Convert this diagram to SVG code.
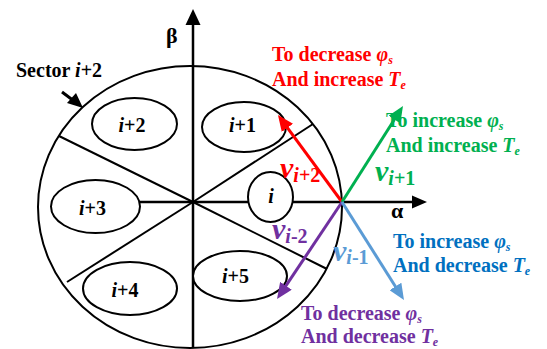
<svg xmlns="http://www.w3.org/2000/svg" width="547" height="349" viewBox="0 0 547 349">
<style>
text{font-family:"Liberation Serif","Times New Roman",serif;font-weight:bold}
.lbl{font-size:20px;text-anchor:middle}
.it{font-style:italic}
.ln{stroke:#000;stroke-width:2;fill:none}
.ax{stroke:#000;stroke-width:2.5;fill:none}
.el{stroke:#000;stroke-width:2;fill:#fff}
.note{font-size:20px}
.vv{font-size:30px;font-style:italic}
.vs{font-size:20px;font-style:italic}
.red{fill:#FF0000}.grn{fill:#00B050}.blu{fill:#0070C0}.lblu{fill:#5B9BD5}.pur{fill:#7030A0}
</style>
<defs>
<marker id="mr" markerUnits="userSpaceOnUse" markerWidth="18" markerHeight="14" refX="8" refY="7" orient="auto"><path d="M0,0 L16,7 L0,14 z" fill="#FF0000"/></marker>
<marker id="mg" markerUnits="userSpaceOnUse" markerWidth="18" markerHeight="14" refX="8" refY="7" orient="auto"><path d="M0,0 L16,7 L0,14 z" fill="#00B050"/></marker>
<marker id="mb" markerUnits="userSpaceOnUse" markerWidth="18" markerHeight="14" refX="8" refY="7" orient="auto"><path d="M0,0 L16,7 L0,14 z" fill="#5B9BD5"/></marker>
<marker id="mp" markerUnits="userSpaceOnUse" markerWidth="18" markerHeight="14" refX="8" refY="7" orient="auto"><path d="M0,0 L16,7 L0,14 z" fill="#7030A0"/></marker>
</defs>
<rect width="547" height="349" fill="#fff"/>
<g id="frame">
<ellipse cx="190" cy="207" rx="152" ry="141" class="ln"/>
<line x1="193" y1="202" x2="59" y2="136" class="ln"/>
<line x1="193" y1="202" x2="67" y2="282" class="ln"/>
<line x1="193" y1="202" x2="313" y2="124" class="ln"/>
<line x1="193" y1="202" x2="327" y2="269" class="ln"/>
</g>
<g id="axes">
<line x1="193" y1="348" x2="193" y2="22" class="ax"/>
<polygon points="193,9 185.5,25 200.5,25" fill="#000"/>
<text x="166" y="43" font-size="22">β</text>
<line x1="140" y1="202" x2="414" y2="202" class="ax"/>
<polygon points="427,202 412,195.5 412,208.5" fill="#000"/>
<text x="391" y="218" font-size="22">α</text>
</g>
<g id="sector-label">
<text x="16" y="77" class="note">Sector <tspan class="it">i</tspan>+2</text>
<line x1="62" y1="92" x2="74" y2="101" stroke="#000" stroke-width="3"/>
<polygon points="83,108 67,103 76,93" fill="#000"/>
</g>
<g id="s-i2"><ellipse cx="134.5" cy="124" rx="42.5" ry="26" class="el"/><text x="132" y="132" class="lbl"><tspan class="it">i</tspan>+2</text></g>
<g id="s-i1"><ellipse cx="244" cy="127" rx="42" ry="25" class="el"/><text x="242.5" y="132" class="lbl"><tspan class="it">i</tspan>+1</text></g>
<g id="s-i3"><ellipse cx="95.5" cy="206.5" rx="44.5" ry="26.5" class="el"/><text x="92.5" y="215" class="lbl"><tspan class="it">i</tspan>+3</text></g>
<g id="s-i4"><ellipse cx="130" cy="288.5" rx="47" ry="26.5" class="el"/><text x="125" y="297" class="lbl"><tspan class="it">i</tspan>+4</text></g>
<g id="s-i5"><ellipse cx="240" cy="276" rx="47" ry="25" class="el"/><text x="235.5" y="283" class="lbl"><tspan class="it">i</tspan>+5</text></g>
<g id="s-i"><ellipse cx="270.5" cy="197" rx="22.5" ry="25" class="el"/><text x="271" y="203" class="lbl it">i</text></g>
<g id="vectors" stroke-width="3">
<line x1="342" y1="202" x2="282.7" y2="121.4" stroke="#FF0000" marker-end="url(#mr)"/>
<line x1="342" y1="202" x2="398.7" y2="112.8" stroke="#00B050" marker-end="url(#mg)"/>
<line x1="342" y1="202" x2="281.5" y2="292.4" stroke="#7030A0" marker-end="url(#mp)"/>
<line x1="342" y1="202" x2="399.7" y2="293.2" stroke="#5B9BD5" marker-end="url(#mb)"/>
</g>
<g id="vector-labels">
<text x="280" y="178" class="red"><tspan class="vv">v</tspan><tspan class="vs" dy="4">i</tspan><tspan font-size="20px">+2</tspan></text>
<text x="375" y="181" class="grn"><tspan class="vv">v</tspan><tspan class="vs" dy="4">i</tspan><tspan font-size="20px">+1</tspan></text>
<text x="272" y="239" class="pur"><tspan class="vv">v</tspan><tspan class="vs" dy="4">i</tspan><tspan font-size="20px">-2</tspan></text>
<text x="333" y="261" class="lblu"><tspan class="vv">v</tspan><tspan class="vs" dy="3">i</tspan><tspan font-size="20px">-1</tspan></text>
</g>
<g id="notes" class="note">
<text x="272" y="61" class="red">To decrease <tspan class="it">φ</tspan><tspan font-size="12px" class="it" dy="3">s</tspan></text>
<text x="272" y="86" class="red">And increase <tspan class="it">T</tspan><tspan font-size="12px" class="it" dy="3">e</tspan></text>
<text x="386" y="127" class="grn">To increase <tspan class="it">φ</tspan><tspan font-size="12px" class="it" dy="3">s</tspan></text>
<text x="386" y="152" class="grn">And increase <tspan class="it">T</tspan><tspan font-size="12px" class="it" dy="3">e</tspan></text>
<text x="393" y="248" class="blu">To increase <tspan class="it">φ</tspan><tspan font-size="12px" class="it" dy="3">s</tspan></text>
<text x="393" y="272" class="blu">And decrease <tspan class="it">T</tspan><tspan font-size="12px" class="it" dy="3">e</tspan></text>
<text x="301" y="320" class="pur">To decrease <tspan class="it">φ</tspan><tspan font-size="12px" class="it" dy="3">s</tspan></text>
<text x="301" y="343" class="pur">And decrease <tspan class="it">T</tspan><tspan font-size="12px" class="it" dy="3">e</tspan></text>
</g>
</svg>
